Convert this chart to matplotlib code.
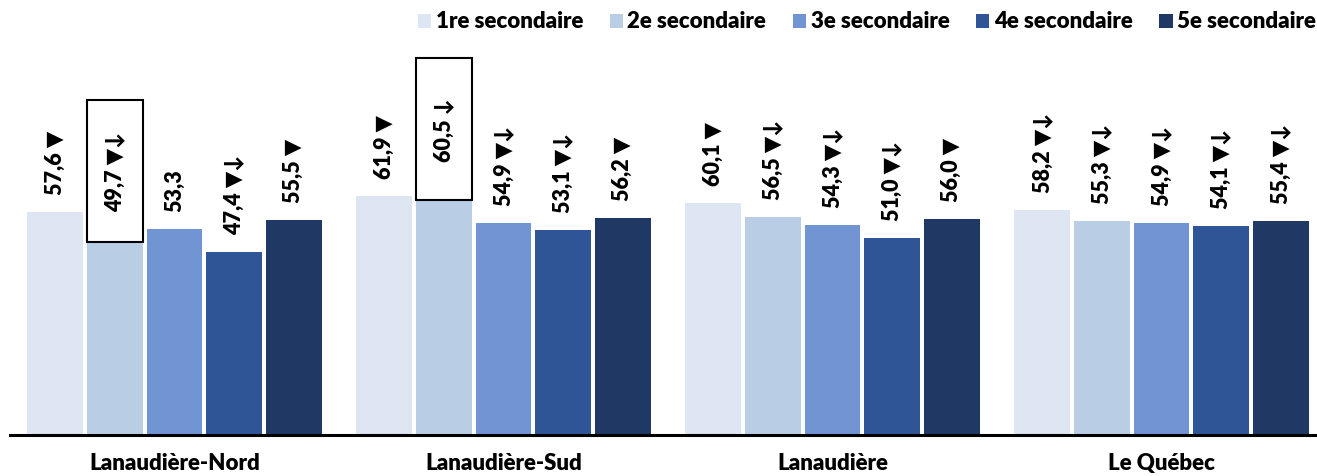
import matplotlib.pyplot as plt
from matplotlib.patches import Rectangle
import numpy as np

plt.rcParams['font.family'] = ['Lato', 'DejaVu Sans']

regions = ['Lanaudière-Nord', 'Lanaudière-Sud', 'Lanaudière', 'Le Québec']
levels = ['1re secondaire', '2e secondaire', '3e secondaire', '4e secondaire', '5e secondaire']
colors = ['#DFE6F3', '#B9CDE5', '#7195D3', '#2F5597', '#1F3864']

# values per level (rows) for each region (columns)
values = [
    [57.6, 61.9, 60.1, 58.2],
    [49.7, 60.5, 56.5, 55.3],
    [53.3, 54.9, 54.3, 54.9],
    [47.4, 53.1, 51.0, 54.1],
    [55.5, 56.2, 56.0, 55.4],
]
# markers appended to each value label
marks = [
    [' ▼', ' ▼', ' ▼', ' ▼↓'],
    [' ▼↓', ' ↓', ' ▼↓', ' ▼↓'],
    ['', ' ▼↓', ' ▼↓', ' ▼↓'],
    [' ▼↓', ' ▼↓', ' ▼↓', ' ▼↓'],
    [' ▼', ' ▼', ' ▼', ' ▼↓'],
]
# labels drawn inside a frame (level index, region index)
boxed = [(1, 0), (1, 1)]

fig = plt.figure(figsize=(13.17, 4.76), dpi=100)
ax = fig.add_axes([10 / 1317, 41 / 476, 1316 / 1317, 386.5 / 476])

x = np.arange(len(regions))
pitch = 0.181
width = 0.17
px = 0.72  # points per pixel

for i, lev in enumerate(levels):
    xs = x + (i - 2) * pitch
    ax.bar(xs, values[i], width, color=colors[i], label=lev, zorder=2)
    for j, v in enumerate(values[i]):
        txt = f'{v:.1f}'.replace('.', ',') + marks[i][j]
        if (i, j) in boxed:
            ax.annotate(txt, (xs[j], v), xytext=(0, 71 * px), textcoords='offset points',
                        rotation=90, ha='center', va='center', fontsize=15.5,
                        fontweight='heavy', color='black')
            ax.add_patch(Rectangle((xs[j] - width / 2, v + 0.3), width, 36.7,
                                   fill=False, edgecolor='black', linewidth=1.5,
                                   zorder=3, clip_on=False))
        else:
            ax.annotate(txt, (xs[j], v), xytext=(0, 17 * px), textcoords='offset points',
                        rotation=90, ha='center', va='bottom', fontsize=15.5,
                        fontweight='heavy', color='black')

ax.set_xlim(-0.5, 3.5)
ax.set_ylim(0, 100)
for s in ['top', 'right', 'left']:
    ax.spines[s].set_visible(False)
ax.spines['bottom'].set_linewidth(2.2)
ax.spines['bottom'].set_color('black')
ax.set_yticks([])
ax.set_xticks(x)
ax.set_xticklabels(regions, fontsize=16, fontweight='heavy')
ax.tick_params(axis='x', length=0, pad=13)

fig.legend(loc='center left', bbox_to_anchor=(409 / 1317, 1 - 22 / 476), ncol=5,
           frameon=False, prop={'size': 16, 'weight': 'heavy'},
           handlelength=0.6, handleheight=0.6, handletextpad=0.2,
           columnspacing=1.2, borderaxespad=0)

fig.savefig('out.png', dpi=100)
